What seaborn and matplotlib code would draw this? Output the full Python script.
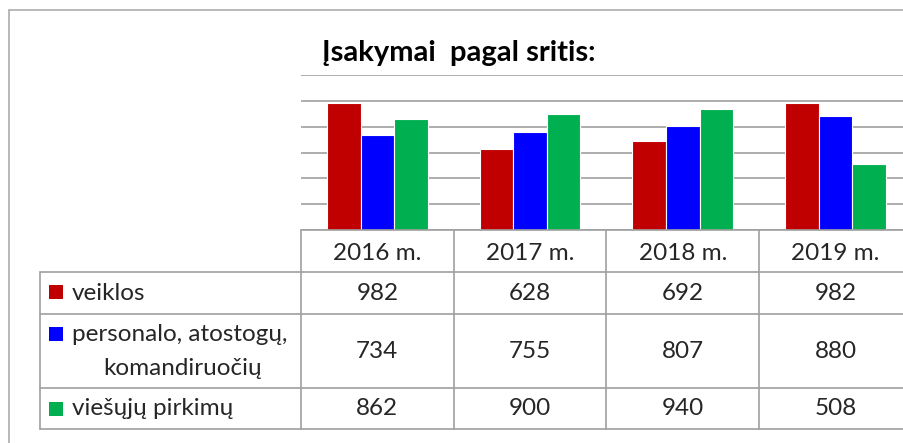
import pandas as pd
import matplotlib.pyplot as plt
import matplotlib.transforms as mtransforms
from matplotlib.patches import Rectangle
from matplotlib.lines import Line2D
import seaborn as sns

sns.set_theme(style="white")
plt.rcParams['font.family'] = ['Lato', 'DejaVu Sans']

years = ['2016 m.', '2017 m.', '2018 m.', '2019 m.']
series = ['veiklos', 'personalo, atostogų, komandiruočių', 'viešųjų pirkimų']
veiklos = [982, 628, 692, 982]
personalo = [734, 755, 807, 880]
viesieji = [862, 900, 940, 508]
colors = ['#C00000', '#0000FF', '#00B050']

df = pd.DataFrame({
    'metai': years * 3,
    'sritis': [series[0]] * 4 + [series[1]] * 4 + [series[2]] * 4,
    'kiekis': veiklos + personalo + viesieji,
})

W, H = 904, 443
fig = plt.figure(figsize=(W / 100, H / 100), dpi=100)


def fx(px):
    return px / W


def fy(px):
    return 1 - px / H


col_w = 152.7
ax = fig.add_axes([fx(301), fy(230), fx(4 * col_w), (230 - 75) / H])
sns.barplot(data=df, x='metai', y='kiekis', hue='sritis', palette=colors,
            width=0.66, edgecolor='white', linewidth=0.8, saturation=1,
            legend=False, ax=ax)
ax.set_xlim(-0.5, 3.5)
ax.set_ylim(0, 1200)
ax.set_yticks(range(0, 1201, 200))
ax.yaxis.grid(True, color='#a0a0a0', linewidth=1.2)
ax.set_axisbelow(True)
ax.tick_params(left=False, bottom=False, labelleft=False, labelbottom=False)
ax.set_xlabel('')
ax.set_ylabel('')
for s in ax.spines.values():
    s.set_visible(False)

fig.text(fx(459), fy(61), 'Įsakymai  pagal sritis:', ha='center', va='baseline',
         fontsize=21, fontweight='bold', color='black')

# outer frame of the chart
line_c = '#a6a6a6'
fig.add_artist(Line2D([fx(9), fx(9)], [fy(10), 0], color=line_c, lw=1.1))
fig.add_artist(Line2D([fx(9), 1], [fy(10), fy(10)], color=line_c, lw=1.1))

# data table under the axis
grid_c = '#a0a0a0'
right = 301 + 4 * col_w
fig.add_artist(Line2D([fx(301), fx(right)], [fy(230), fy(230)], color=grid_c, lw=1.2))
for yy in [272, 314, 388, 429]:
    fig.add_artist(Line2D([fx(40), fx(right)], [fy(yy), fy(yy)], color=grid_c, lw=1.2))
fig.add_artist(Line2D([fx(40), fx(40)], [fy(272), fy(429)], color=grid_c, lw=1.2))
for i in range(5):
    xx = 301 + i * col_w
    fig.add_artist(Line2D([fx(xx), fx(xx)], [fy(230), fy(429)], color=grid_c, lw=1.2))

trans = mtransforms.blended_transform_factory(ax.transData, fig.transFigure)
fs = 17.5
rows = [veiklos, personalo, viesieji]
row_base = [300, 358, 415]
for i, yr in enumerate(years):
    fig.text(i, fy(260), yr, transform=trans, ha='center', va='baseline', fontsize=fs)
    for vals, yb in zip(rows, row_base):
        fig.text(i, fy(yb), str(vals[i]), transform=trans, ha='center', va='baseline', fontsize=fs)

key_top = [285, 327, 402]
for c, kt in zip(colors, key_top):
    fig.add_artist(Rectangle((fx(49), fy(kt + 14)), fx(14), 14 / H, facecolor=c,
                             edgecolor='none', transform=fig.transFigure))

fig.text(fx(72), fy(300), 'veiklos', ha='left', va='baseline', fontsize=fs)
fig.text(fx(72), fy(341), 'personalo, atostogų,', ha='left', va='baseline', fontsize=fs)
fig.text(fx(183), fy(375), 'komandiruočių', ha='center', va='baseline', fontsize=fs)
fig.text(fx(72), fy(415), 'viešųjų pirkimų', ha='left', va='baseline', fontsize=fs)

fig.savefig('out.png', dpi=100, facecolor='white')
